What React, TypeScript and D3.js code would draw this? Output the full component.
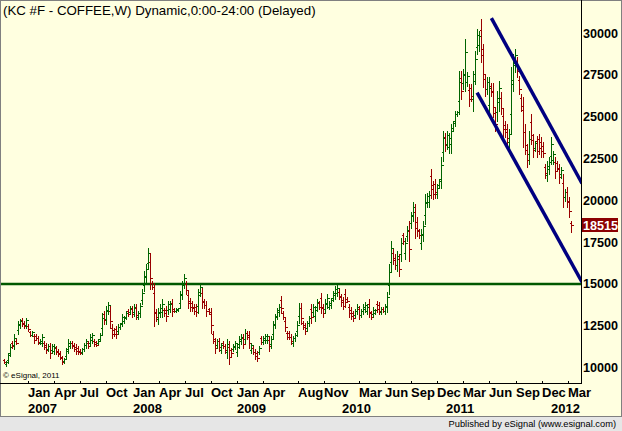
import React from 'react';
import * as d3 from 'd3';

// weekly OHLC, KC #F coffee, first bar = week of 2006-10-09
const opens = [
  10430, 10190, 10460, 10890, 11480, 11350, 11610, 12220, 12530, 12860,
  12680, 12560, 12480, 12110, 11970, 11860, 11910, 11760, 11470, 11490,
  11460, 11330, 11100, 11260, 11030, 10960, 11160, 10980, 10860, 10560,
  10370, 10690, 11120, 11300, 11480, 11360, 11230, 11160, 11010, 10900,
  11130, 11330, 11480, 11490, 11660, 11580, 11510, 11470, 11730, 12370,
  13180, 12910, 13400, 13360, 12380, 12260, 12310, 12160, 12400, 12690,
  12800, 13030, 13380, 13330, 13510, 13300, 13560, 13040, 13260, 14050,
  14940, 15410, 16270, 16320, 15060, 14430, 13310, 12890, 13230, 13320,
  13460, 13460, 13430, 13500, 13830, 13510, 13380, 13450, 13880, 14410,
  15020, 14980, 14330, 13980, 13830, 13630, 13610, 13700, 14490, 14480,
  13960, 13760, 13480, 13210, 12020, 11570, 11340, 11590, 11070, 11490,
  11270, 10920, 11240, 11070, 11110, 11240, 10900, 11400, 11570, 11790,
  11730, 12070, 11940, 11070, 11170, 10940, 10840, 10940, 11770, 11540,
  11640, 11640, 11670, 11400, 12020, 12630, 13100, 13300, 14030, 13270,
  12790, 12070, 12070, 11840, 11470, 11740, 12160, 13050, 13560, 12670,
  12520, 12370, 12670, 13510, 13300, 13060, 13600, 13860, 14180, 13580,
  13520, 13820, 13640, 13760, 14160, 14320, 14480, 14530, 14210, 14020,
  14410, 14120, 13590, 13420, 13240, 13140, 13370, 13490, 13140, 13370,
  13470, 13370, 13810, 13270, 13170, 13280, 13820, 13720, 13310, 13520,
  13370, 13650, 14930, 16320, 16860, 16560, 16140, 16460, 16800, 17900,
  16870, 17840, 18170, 18640, 19100, 19270, 18700, 18150, 17440, 17930,
  19110, 19840, 19870, 21440, 20890, 20990, 20400, 20910, 21300, 22900,
  23780, 23380, 23210, 23360, 24330, 24720, 25140, 25930, 27320, 27010,
  27470, 27080, 26620, 26690, 26070, 27550, 29190, 29300, 30180, 28690,
  27220, 26650, 25670, 26840, 26520, 25200, 25290, 25890, 26130, 25030,
  24500, 24250, 23490, 25150, 27210, 28060, 28240, 27170, 26100, 25400,
  24100, 23010, 22760, 24700, 23600, 23140, 23540, 23650, 23460, 23240,
  21960, 21520, 21860, 22640, 22400, 22260, 22210, 21890, 21540, 21060,
  20180, 20470, 19870, 18650,
];

const highs = [
  10480, 10400, 10880, 11380, 11580, 11980, 11680, 12780, 12880, 12980,
  12780, 12980, 12580, 12180, 12180, 11980, 11980, 11880, 11680, 11980,
  11580, 11480, 11380, 11480, 11380, 11380, 11280, 11080, 10980, 10680,
  10580, 11180, 11680, 11580, 11580, 11480, 11380, 11280, 11080, 11180,
  11480, 11680, 11580, 11980, 12080, 11680, 11580, 11680, 12080, 13280,
  13380, 13680, 13920, 13680, 12580, 12380, 12480, 12580, 12680, 13180,
  13080, 13380, 13480, 13680, 13680, 13780, 13780, 13380, 13880, 14680,
  15780, 16180, 17170, 16870, 15180, 15080, 13480, 13580, 13780, 14080,
  13580, 13680, 13980, 13980, 14080, 13580, 13580, 13580, 14580, 15180,
  15580, 15180, 14580, 14180, 13980, 13780, 13780, 14680, 14980, 14780,
  14080, 13980, 13580, 13580, 12190, 11790, 11690, 11790, 11490, 11590,
  11390, 11690, 11590, 11190, 11390, 11590, 11390, 11890, 11990, 11990,
  12290, 12190, 12190, 11490, 11290, 11090, 10990, 11290, 11890, 11890,
  11990, 11990, 11890, 11890, 12790, 13190, 13580, 13780, 14280, 13390,
  12990, 12190, 12190, 11990, 11890, 12090, 12790, 13880, 13880, 12790,
  12690, 12790, 13090, 13780, 13780, 13680, 14080, 13980, 14480, 13780,
  14080, 14380, 13980, 14180, 14580, 14880, 14940, 14680, 14380, 14190,
  14680, 14190, 13790, 13590, 13390, 13490, 13790, 13690, 13490, 13790,
  13890, 13790, 14090, 13390, 13590, 13490, 13990, 13890, 13590, 13590,
  13790, 14490, 16180, 17570, 17080, 16780, 16980, 16780, 17770, 18070,
  17770, 18470, 18770, 19270, 19870, 19770, 18970, 18270, 18270, 18770,
  20360, 20460, 20560, 21860, 21160, 21260, 20960, 21260, 22560, 24150,
  24050, 24150, 24050, 24550, 24750, 25350, 25350, 27740, 27740, 27840,
  29630, 27640, 26940, 26940, 27740, 28940, 30230, 30130, 30830, 29340,
  27540, 27340, 27340, 27040, 27040, 25550, 26550, 27140, 26450, 25450,
  24750, 24550, 24250, 27940, 28740, 29040, 28540, 27440, 26350, 26150,
  24550, 23360, 24150, 25150, 23950, 23560, 23860, 23950, 23760, 23460,
  22160, 22360, 22560, 23760, 22960, 22560, 22360, 22160, 21960, 21560,
  20670, 20770, 20170, 18770,
];

const lows = [
  10280, 10100, 10280, 10680, 11180, 11080, 11380, 11980, 12380, 12480,
  12380, 12380, 12180, 11880, 11880, 11480, 11680, 11380, 11380, 11280,
  11080, 10880, 10980, 10580, 10880, 10780, 10780, 10680, 10480, 10180,
  10280, 10480, 10880, 11180, 11180, 10980, 10780, 10780, 10780, 10780,
  10980, 11180, 11180, 11280, 11480, 11280, 11280, 11380, 11580, 11980,
  12580, 12580, 13180, 12380, 11780, 11880, 11780, 11980, 12280, 12480,
  12680, 12880, 13080, 13180, 12990, 13090, 12890, 12890, 12990, 13780,
  14580, 15080, 15880, 14680, 14680, 12490, 12780, 12590, 12990, 12990,
  13090, 12790, 13190, 13290, 13090, 13290, 13290, 13390, 13580, 14080,
  14780, 14380, 13580, 13390, 13390, 13190, 13090, 13280, 14280, 13580,
  13580, 13090, 13190, 12090, 11490, 10890, 11190, 10990, 10890, 11190,
  10890, 10590, 10200, 10690, 10990, 11090, 10690, 11190, 11390, 11190,
  11490, 11690, 11190, 10890, 10790, 10500, 10400, 10790, 11390, 11390,
  11490, 11490, 10990, 11190, 11690, 12390, 12890, 13090, 13280, 12890,
  12190, 11690, 11690, 11390, 11290, 11590, 11890, 12690, 12590, 12290,
  11990, 12190, 12490, 12690, 13090, 12790, 13390, 13490, 13280, 12990,
  13280, 13580, 13490, 13580, 13980, 14080, 14280, 14080, 13690, 13490,
  13590, 13890, 12990, 12890, 12790, 12990, 13190, 12890, 12990, 13190,
  13290, 13190, 12990, 12890, 12990, 13190, 13290, 13190, 13190, 13290,
  13190, 13290, 14390, 15780, 16180, 15880, 15780, 15480, 16380, 17370,
  16480, 17570, 16380, 18370, 18770, 17770, 17870, 17770, 17080, 17570,
  18570, 19570, 19570, 20160, 20060, 20160, 20160, 20760, 20760, 22360,
  22950, 23050, 22850, 22850, 24150, 24450, 25050, 25150, 26050, 26650,
  26550, 26840, 25650, 25950, 25350, 26950, 28740, 28940, 28240, 26750,
  26250, 26350, 24950, 26250, 24950, 24150, 24750, 25350, 25150, 23760,
  23760, 23360, 23160, 23950, 26550, 27640, 27340, 26350, 25350, 23160,
  22760, 21960, 22160, 23360, 22560, 22960, 22560, 22760, 22560, 22560,
  21360, 21160, 21560, 22160, 22160, 21360, 21760, 21060, 21360, 19570,
  19970, 19570, 18970, 18080,
];

const closes = [
  10340, 10330, 10730, 11210, 11300, 11760, 11470, 12580, 12760, 12630,
  12500, 12830, 12300, 11970, 12110, 11630, 11770, 11530, 11610, 11810,
  11230, 11060, 11280, 10850, 11260, 11230, 10930, 10800, 10630, 10330,
  10510, 11010, 11480, 11480, 11300, 11130, 10960, 10930, 10870, 11080,
  11360, 11560, 11300, 11810, 11930, 11400, 11370, 11610, 11960, 12960,
  12820, 13410, 13740, 12770, 12020, 12030, 11990, 12430, 12580, 13010,
  12980, 13260, 13200, 13560, 13200, 13610, 13160, 13260, 13660, 14460,
  15480, 15910, 16850, 15340, 14830, 13270, 12990, 13330, 13580, 13810,
  13240, 13060, 13780, 13810, 13390, 13380, 13510, 13530, 14330, 14910,
  15380, 14620, 13880, 13630, 13570, 13370, 13300, 14330, 14810, 13940,
  13730, 13360, 13310, 12540, 11700, 11160, 11570, 11230, 11340, 11310,
  11040, 11420, 10620, 10840, 11290, 11470, 11220, 11720, 11840, 11430,
  12090, 11840, 11490, 11340, 10940, 10680, 10580, 11170, 11540, 11770,
  11870, 11870, 11260, 11720, 12520, 12990, 13410, 13610, 13580, 13040,
  12430, 11840, 11840, 11570, 11740, 11970, 12570, 13580, 12980, 12440,
  12200, 12640, 12940, 13020, 13610, 13460, 13910, 13640, 13640, 13230,
  13880, 14180, 13860, 14030, 14430, 14680, 14780, 14260, 13900, 13700,
  13920, 13980, 13230, 13100, 12970, 13370, 13640, 13130, 13370, 13640,
  13740, 13640, 13320, 13040, 13440, 13420, 13500, 13400, 13490, 13380,
  13640, 14190, 15730, 17120, 16450, 16150, 16680, 15870, 17420, 17580,
  17450, 18250, 17100, 19050, 19600, 18370, 18200, 17920, 17970, 18470,
  19910, 20240, 20310, 20670, 20390, 20490, 20760, 21140, 22110, 23700,
  23280, 23880, 23750, 24130, 24600, 25130, 25280, 27090, 26560, 27540,
  28860, 27440, 26040, 26250, 27140, 28440, 29860, 29830, 29020, 27530,
  26640, 27100, 26740, 26490, 25580, 24570, 26100, 26690, 25540, 24270,
  24060, 23720, 23980, 26940, 28190, 28690, 27700, 26680, 25650, 24060,
  23300, 22380, 23650, 23900, 22980, 23410, 22950, 23120, 22920, 22830,
  21600, 22060, 22310, 23360, 22760, 21720, 21940, 21390, 21810, 20170,
  20500, 19930, 19330, 18515,
];

const firstWeek = '2006-10-09';

const yTicks = [10000, 12500, 15000, 17500, 20000, 22500, 25000, 27500, 30000];

const monthTickDates = [
  '2007-01-01', '2007-04-01', '2007-07-01', '2007-10-01',
  '2008-01-01', '2008-04-01', '2008-07-01', '2008-10-01',
  '2009-01-01', '2009-04-01', '2009-08-01', '2009-11-01',
  '2010-03-01', '2010-06-01', '2010-09-01', '2010-12-01',
  '2011-03-01', '2011-06-01', '2011-09-01', '2011-12-01', '2012-03-01',
];
const monthTickLabels = [
  'Jan', 'Apr', 'Jul', 'Oct', 'Jan', 'Apr', 'Jul', 'Oct', 'Jan', 'Apr', 'Aug', 'Nov',
  'Mar', 'Jun', 'Sep', 'Dec', 'Mar', 'Jun', 'Sep', 'Dec', 'Mar',
];
const yearDates = ['2007-01-01', '2008-01-01', '2009-01-01', '2010-01-01', '2011-01-01', '2012-01-01'];
const yearLabels = ['2007', '2008', '2009', '2010', '2011', '2012'];

const supportLevel = 15000;
const upperChannel = [
  { date: '2011-06-08', price: 30890 },
  { date: '2012-04-20', price: 21000 },
];
const lowerChannel = [
  { date: '2011-04-19', price: 26440 },
  { date: '2012-04-20', price: 15100 },
];

const lastPrice = 18515;

const W = 622;
const H = 431;
const plotRight = 581;
const plotBottom = 383;
const font = '"Liberation Sans", Arial, sans-serif';
const UP = '#006400';
const DOWN = '#990000';

export default function App() {
  const parse = d3.timeParse('%Y-%m-%d');
  const start = parse(firstWeek) as Date;
  const dates = closes.map((_, i) => d3.timeWeek.offset(start, i));

  const x = d3
    .scaleTime()
    .domain([new Date(2007, 0, 1), new Date(2012, 0, 1)])
    .range([28.3, 550.6]);
  const y = d3.scaleLinear().domain([10000, 30000]).range([367.5, 33]);

  const py = (v: number) => Math.round(y(v)) + 0.5;

  const channel = d3
    .line<{ date: string; price: number }>()
    .x((d) => x(parse(d.date) as Date))
    .y((d) => y(d.price));

  return (
    <svg
      width={W}
      height={H}
      style={{ position: 'absolute', left: 0, top: 0, display: 'block' }}
      fontFamily={font}
    >
      <defs>
        <clipPath id="plot">
          <rect x={1} y={1} width={plotRight - 1} height={plotBottom - 1} />
        </clipPath>
      </defs>
      <rect x={0} y={0} width={W} height={417} fill="#FFFFE0" />
      <rect x={0} y={417} width={W} height={H - 417} fill="#E6E6E6" />
      <line x1={0} x2={W} y1={416.5} y2={416.5} stroke="#000" />
      <rect x={0.5} y={0.5} width={W - 1} height={416} fill="none" stroke="#808080" />

      <text x={3} y={15} fontSize={13.3} fill="#000">
        (KC #F - COFFEE,W) Dynamic,0:00-24:00 (Delayed)
      </text>

      <g clipPath="url(#plot)">
        <line
          x1={0}
          x2={plotRight}
          y1={y(supportLevel)}
          y2={y(supportLevel)}
          stroke="#005800"
          strokeWidth={2.5}
        />
        <g shapeRendering="crispEdges">
          {dates.map((d, i) => {
            const bx = Math.round(x(d)) + 0.5;
            const c = closes[i] >= opens[i] ? UP : DOWN;
            return (
              <g key={i} stroke={c} strokeWidth={1}>
                <line x1={bx} x2={bx} y1={py(highs[i]) - 0.5} y2={py(lows[i]) + 0.5} />
                <line x1={bx - 2} x2={bx} y1={py(opens[i])} y2={py(opens[i])} />
                <line x1={bx} x2={bx + 2} y1={py(closes[i])} y2={py(closes[i])} />
              </g>
            );
          })}
        </g>
        <path d={channel(upperChannel) || ''} stroke="#000080" strokeWidth={3.5} fill="none" />
        <path d={channel(lowerChannel) || ''} stroke="#000080" strokeWidth={3.5} fill="none" />
      </g>

      <line x1={plotRight + 0.5} x2={plotRight + 0.5} y1={0} y2={plotBottom} stroke="#000" />
      <line x1={0} x2={plotRight + 1} y1={plotBottom + 0.5} y2={plotBottom + 0.5} stroke="#000" />

      {yTicks.map((t) => (
        <text
          key={t}
          x={583}
          y={y(t)}
          dy="0.36em"
          fontSize={12.6}
          fontWeight="bold"
          fill="#000"
        >
          {t}
        </text>
      ))}

      <rect x={582} y={218} width={36} height={14} fill="#8B0000" />
      <text x={583} y={y(lastPrice)} dy="0.36em" fontSize={12.6} fontWeight="bold" fill="#fff">
        {lastPrice}
      </text>

      {monthTickDates.map((d, i) => {
        const tx = Math.round(x(parse(d) as Date)) + 0.5;
        return (
          <g key={d}>
            <line x1={tx} x2={tx} y1={plotBottom - 2} y2={plotBottom + 1} stroke="#000" />
            <text x={tx - 0.5} y={397} fontSize={13} fontWeight="bold" fill="#000">
              {monthTickLabels[i]}
            </text>
          </g>
        );
      })}
      {yearDates.map((d, i) => (
        <text
          key={d}
          x={Math.round(x(parse(d) as Date))}
          y={413}
          fontSize={13}
          fontWeight="bold"
          fill="#000"
        >
          {yearLabels[i]}
        </text>
      ))}

      <text x={3} y={378} fontSize={8} fill="#000">
        © eSignal, 2011
      </text>
      <text x={616} y={427} fontSize={9.3} textAnchor="end" fill="#000">
        Published by eSignal (www.esignal.com)
      </text>
    </svg>
  );
}
